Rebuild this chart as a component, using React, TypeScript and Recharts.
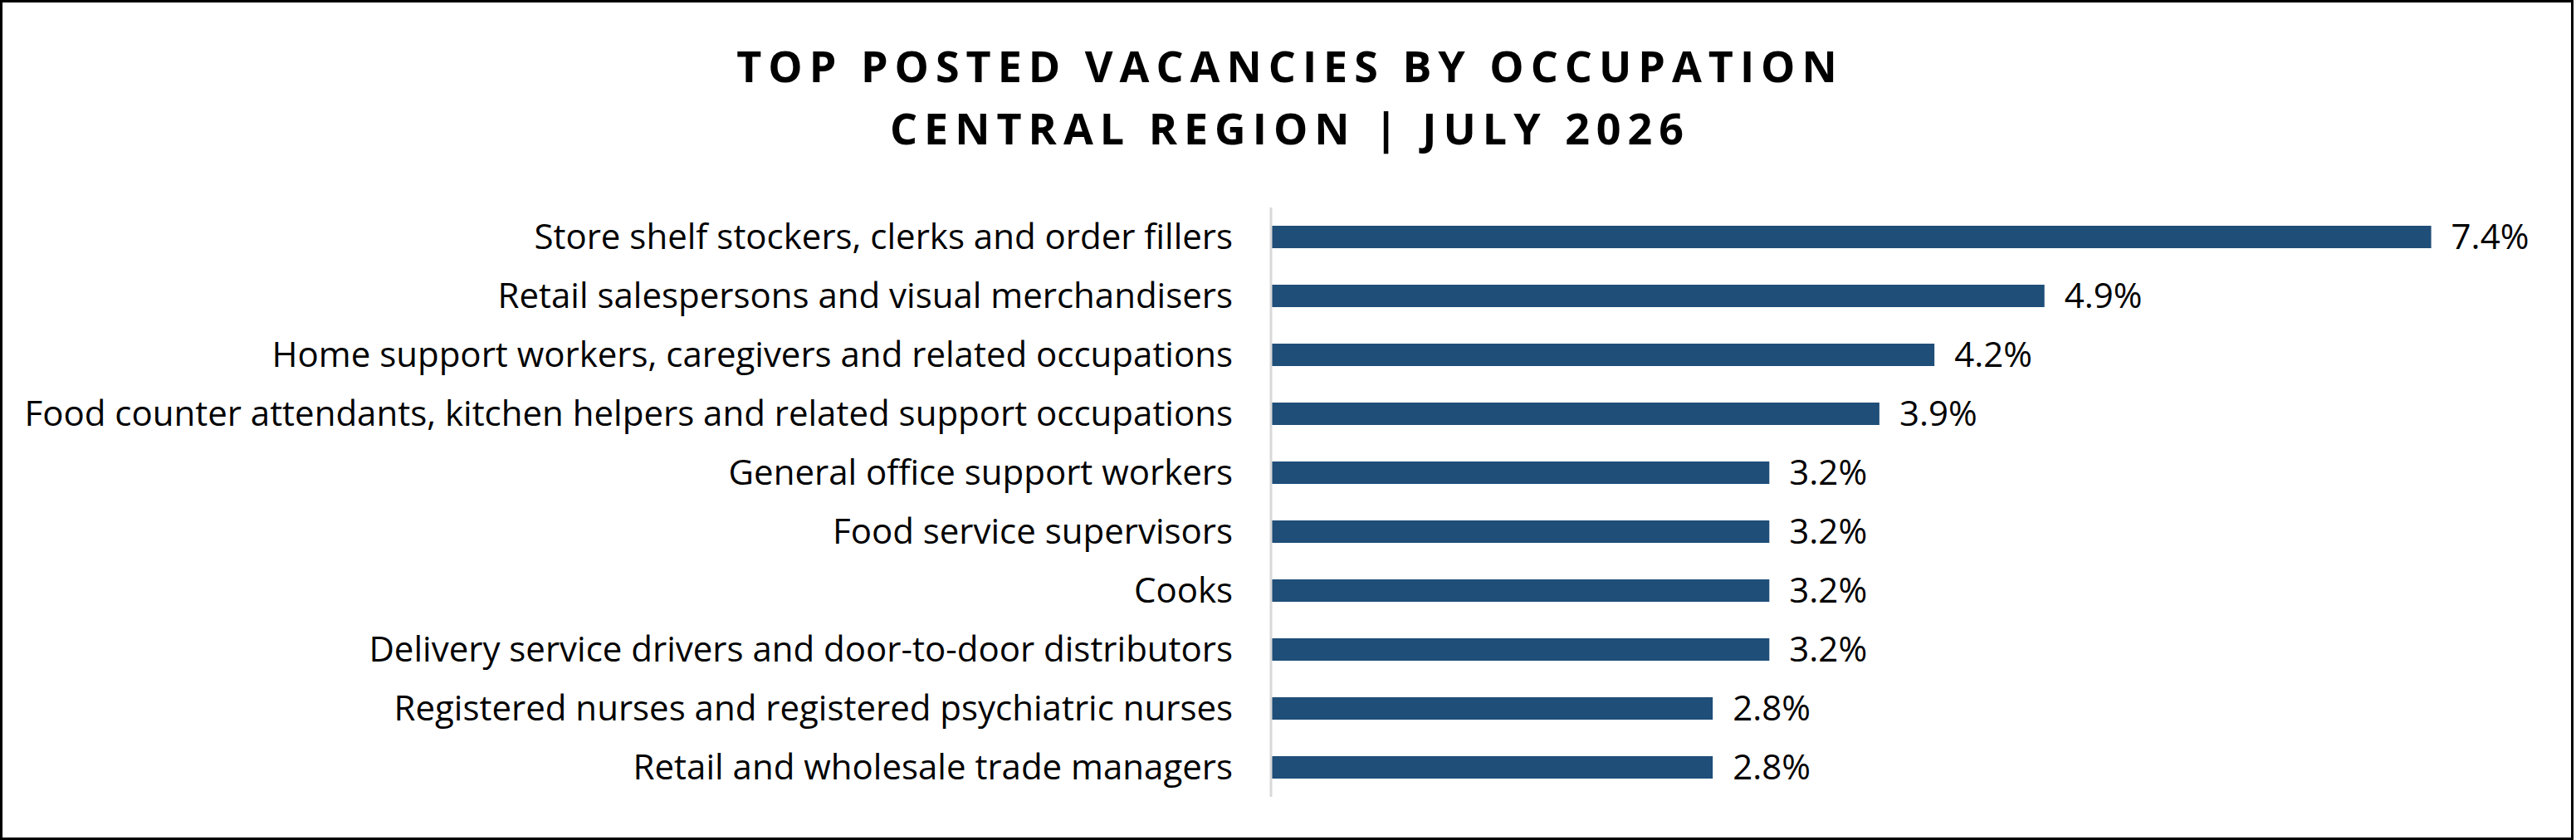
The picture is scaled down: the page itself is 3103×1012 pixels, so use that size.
import { BarChart, Bar, XAxis, YAxis, LabelList } from "recharts"

const occupations = [
  "Store shelf stockers, clerks and order fillers",
  "Retail salespersons and visual merchandisers",
  "Home support workers, caregivers and related occupations",
  "Food counter attendants, kitchen helpers and related support occupations",
  "General office support workers",
  "Food service supervisors",
  "Cooks",
  "Delivery service drivers and door-to-door distributors",
  "Registered nurses and registered psychiatric nurses",
  "Retail and wholesale trade managers",
]

// share of posted vacancies, %
const shares = [7.38, 4.92, 4.22, 3.87, 3.17, 3.17, 3.17, 3.17, 2.81, 2.81]

const titleLines = ["TOP POSTED VACANCIES BY OCCUPATION", "CENTRAL REGION | JULY 2026"]

const BAR_COLOR = "#1f4e79"
const FONT = "'Open Sans', 'Noto Sans', sans-serif"

const chartData = occupations.map((name, i) => ({ name, share: shares[i] }))

export default function App() {
  return (
    <div
      style={{
        position: "absolute",
        left: 0,
        top: 0,
        width: 3100,
        height: 1012,
        boxSizing: "border-box",
        border: "3px solid #000",
        background: "#fff",
        fontFamily: FONT,
      }}
    >
      <div
        style={{
          position: "absolute",
          left: 0,
          top: 38,
          width: "100%",
          paddingLeft: 8,
          boxSizing: "border-box",
          textAlign: "center",
          fontWeight: 700,
          fontSize: 52,
          lineHeight: "75px",
          letterSpacing: 8,
          color: "#000",
        }}
      >
        {titleLines.map((t) => (
          <div key={t}>{t}</div>
        ))}
      </div>
      <div style={{ position: "absolute", left: -3, top: -3 }}>
        <BarChart
          width={3100}
          height={1012}
          data={chartData}
          layout="vertical"
          barSize={27}
          margin={{ top: 250, right: 54, bottom: 52, left: 0 }}
        >
          <XAxis type="number" domain={[0, 8]} hide />
          <YAxis
            type="category"
            dataKey="name"
            width={1531}
            tickLine={false}
            tickSize={0}
            tickMargin={46}
            axisLine={{ stroke: "#d9d9d9", strokeWidth: 3 }}
            tick={{ fill: "#000", fontSize: 42, fontFamily: FONT }}
            interval={0}
          />
          <Bar dataKey="share" fill={BAR_COLOR} isAnimationActive={false}>
            <LabelList
              dataKey="share"
              position="right"
              offset={24}
              formatter={(v: number) => `${Number(v).toFixed(1)}%`}
              style={{ fill: "#000", fontSize: 42, fontFamily: FONT }}
            />
          </Bar>
        </BarChart>
      </div>
    </div>
  )
}
